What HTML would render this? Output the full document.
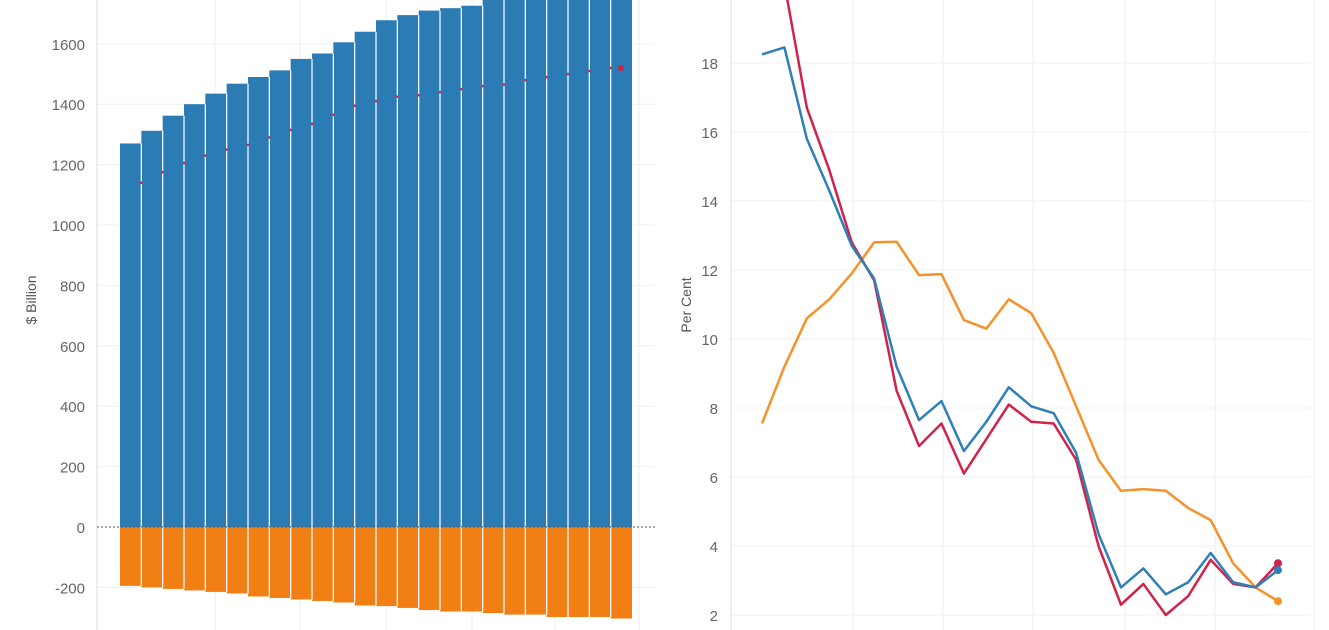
<!DOCTYPE html>
<html><head><meta charset="utf-8"><style>body{margin:0;background:#fff}svg{display:block}</style></head>
<body>
<svg width="1329" height="630" viewBox="0 0 1329 630" xmlns="http://www.w3.org/2000/svg" font-family="Liberation Sans, sans-serif">
<g id="L"></g>
<g id="R"></g>
<script>
const NS="http://www.w3.org/2000/svg";
function el(p,t,a,txt){const e=document.createElementNS(NS,t);for(const k in a)e.setAttribute(k,a[k]);if(txt!==undefined)e.textContent=txt;p.appendChild(e);return e;}
const L=document.getElementById('L'),R=document.getElementById('R');
const yl=v=>527-v*0.302;
[215,300,386,472,555,639].forEach(x=>el(L,'line',{x1:x,y1:0,x2:x,y2:630,stroke:'#eeeeee'}));
[1600,1400,1200,1000,800,600,400,200,-200].forEach(v=>{el(L,'line',{x1:97,y1:yl(v),x2:655,y2:yl(v),stroke:'#f0f0f0'});});
[1600,1400,1200,1000,800,600,400,200,0,-200].forEach(v=>el(L,'text',{x:85,y:yl(v)+6,'text-anchor':'end','font-size':15,fill:'#666'},v));
el(L,'line',{x1:97,y1:0,x2:97,y2:630,stroke:'#ddd'});
el(L,'text',{x:36,y:300,'font-size':14,fill:'#555','text-anchor':'middle',transform:'rotate(-90 36 300)'},'$ Billion');
const tops=[1270,1312,1362,1400,1435,1468,1490,1512,1550,1568,1605,1640,1678,1695,1710,1718,1726,1760,1790,1810,1830,1850,1870,1890];
const negs=[-195,-200,-205,-210,-215,-220,-230,-235,-240,-245,-250,-260,-262,-268,-275,-280,-280,-285,-290,-290,-298,-298,-298,-303];
const x0=120,bw=(632-120)/24;
for(let i=0;i<24;i++){const x=x0+i*bw;
 el(L,'rect',{x:x,y:yl(tops[i]),width:bw,height:527-yl(tops[i]),fill:'#2b7bb4'});
 el(L,'rect',{x:x,y:527,width:bw,height:yl(negs[i])-527,fill:'#f27f14'});
}
for(let i=1;i<24;i++){const x=x0+i*bw;
 el(L,'line',{x1:x,y1:yl(Math.min(tops[i],tops[i-1])),x2:x,y2:yl(Math.max(negs[i],negs[i-1])),stroke:'#f4f8fc','stroke-width':1.3});
}
const reds=[null,1140,1175,1205,1230,1250,1265,1290,1315,1335,1365,1395,1410,1425,1430,1440,1450,1460,1465,1480,1490,1500,1510,1520];
for(let i=1;i<24;i++){el(L,'circle',{cx:x0+i*bw,cy:yl(reds[i]),r:1.3,fill:'#d0234a'});}
el(L,'circle',{cx:621,cy:yl(1520),r:3,fill:'#d0234a'});
el(L,'line',{x1:97,y1:527,x2:655,y2:527,stroke:'#555','stroke-dasharray':'2,2'});
const yr=v=>615-(v-2)*34.5;
[853,943,1033,1125,1215,1314].forEach(x=>el(R,'line',{x1:x,y1:0,x2:x,y2:630,stroke:'#eeeeee'}));
[2,4,6,8,10,12,14,16,18,20].forEach(v=>{el(R,'line',{x1:731,y1:yr(v),x2:1310,y2:yr(v),stroke:'#f0f0f0'});el(R,'text',{x:718,y:yr(v)+6,'text-anchor':'end','font-size':15,fill:'#666'},v);});
el(R,'line',{x1:731,y1:0,x2:731,y2:630,stroke:'#ddd'});
el(R,'text',{x:691,y:305,'font-size':14,fill:'#555','text-anchor':'middle',transform:'rotate(-90 691 305)'},'Per Cent');
const xr=i=>762+i*(1278-762)/23;
const O=[7.55,9.2,10.6,11.15,11.9,12.8,12.82,11.85,11.88,10.55,10.3,11.15,10.75,9.6,8.05,6.5,5.6,5.65,5.6,5.1,4.75,3.5,2.8,2.4];
const B=[18.25,18.45,15.8,14.3,12.7,11.75,9.2,7.65,8.2,6.75,7.6,8.6,8.05,7.85,6.7,4.35,2.8,3.35,2.6,2.95,3.8,2.95,2.8,3.3];
const Rd=[23,20.3,16.7,14.9,12.8,11.7,8.5,6.9,7.55,6.1,7.1,8.1,7.6,7.55,6.5,4.0,2.3,2.9,2.0,2.55,3.6,2.9,2.8,3.5];
function line(d,c){el(R,'polyline',{points:d.map((v,i)=>xr(i)+','+yr(v)).join(' '),fill:'none',stroke:c,'stroke-width':2.5,'stroke-linejoin':'round'});el(R,'circle',{cx:xr(23),cy:yr(d[23]),r:4,fill:c});}
line(O,'#f5922a');line(Rd,'#d0234a');line(B,'#2f80b8');
</script>
</svg>
</body></html>
